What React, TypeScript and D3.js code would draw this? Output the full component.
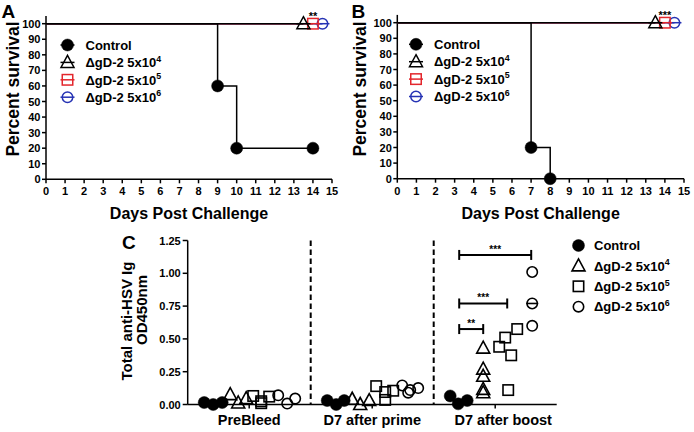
import React from "react";
import * as d3 from "d3";

// ---------- DATA ----------
const survivalTicksX = d3.range(0, 16);
const survivalTicksY = d3.range(0, 101, 10);

const seriesNames = ["Control", "ΔgD-2 5x10", "ΔgD-2 5x10", "ΔgD-2 5x10"];
const seriesExp = ["", "4", "5", "6"];
const seriesShapes = ["dot", "triangle", "square", "circle"];
const seriesColorsAB = ["#000000", "#000000", "#e3262c", "#2633b4"];

// Panel A survival steps (day, percent)
const controlA = [
  { t: 0, s: 100 },
  { t: 9, s: 60 },
  { t: 10, s: 20 },
  { t: 14, s: 20 },
];
const controlAMarks = [
  { t: 9, s: 60 },
  { t: 10, s: 20 },
  { t: 14, s: 20 },
];
// Panel B
const controlB = [
  { t: 0, s: 100 },
  { t: 7, s: 20 },
  { t: 8, s: 0 },
];
const controlBMarks = [
  { t: 7, s: 20 },
  { t: 8, s: 0 },
];
// vaccinated groups survive 100% to day 14
const vaccineSurvival = [
  { t: 0, s: 100 },
  { t: 14, s: 100 },
];
const starsA = "**";
const starsB = "***";

// Panel C
const timepoints = ["PreBleed", "D7 after prime", "D7 after boost"];
// each point: group index, series index, value, jitter (px)
const odPoints: { g: number; k: number; v: number; j: number; bar?: boolean }[] = [
  // PreBleed
  { g: 0, k: 0, v: 0.015, j: -9 }, { g: 0, k: 0, v: 0.0, j: 0 }, { g: 0, k: 0, v: 0.015, j: 9 },
  { g: 0, k: 1, v: 0.075, j: -7 }, { g: 0, k: 1, v: 0.012, j: 1 }, { g: 0, k: 1, v: 0.045, j: 9 },
  { g: 0, k: 2, v: 0.065, j: -8 }, { g: 0, k: 2, v: 0.025, j: 0 }, { g: 0, k: 2, v: 0.01, j: 0 }, { g: 0, k: 2, v: 0.06, j: 8 },
  { g: 0, k: 3, v: 0.07, j: -7 }, { g: 0, k: 3, v: 0.007, j: 2 }, { g: 0, k: 3, v: 0.045, j: 10 },
  // D7 after prime
  { g: 1, k: 0, v: 0.03, j: -9 }, { g: 1, k: 0, v: 0.0, j: 0 }, { g: 1, k: 0, v: 0.03, j: 8 },
  { g: 1, k: 1, v: 0.04, j: -8 }, { g: 1, k: 1, v: 0.0, j: 0 }, { g: 1, k: 1, v: 0.03, j: 9 },
  { g: 1, k: 2, v: 0.14, j: -8 }, { g: 1, k: 2, v: 0.095, j: 1 }, { g: 1, k: 2, v: 0.035, j: 1 }, { g: 1, k: 2, v: 0.105, j: 9 },
  { g: 1, k: 3, v: 0.145, j: -6 }, { g: 1, k: 3, v: 0.11, j: 2 }, { g: 1, k: 3, v: 0.125, j: 10 }, { g: 1, k: 3, v: 0.09, j: 0 },
  // D7 after boost
  { g: 2, k: 0, v: 0.065, j: -9 }, { g: 2, k: 0, v: 0.005, j: -1 }, { g: 2, k: 0, v: 0.03, j: 8 },
  { g: 2, k: 1, v: 0.43, j: 0 }, { g: 2, k: 1, v: 0.27, j: 0 }, { g: 2, k: 1, v: 0.215, j: 0 }, { g: 2, k: 1, v: 0.115, j: 0 }, { g: 2, k: 1, v: 0.09, j: 0 },
  { g: 2, k: 2, v: 0.44, j: -8 }, { g: 2, k: 2, v: 0.51, j: -2 }, { g: 2, k: 2, v: 0.375, j: 4 }, { g: 2, k: 2, v: 0.575, j: 10 }, { g: 2, k: 2, v: 0.11, j: 1 },
  { g: 2, k: 3, v: 1.01, j: 1 }, { g: 2, k: 3, v: 0.77, j: 1, bar: true }, { g: 2, k: 3, v: 0.6, j: 1 },
];
const odTicks = [0, 0.25, 0.5, 0.75, 1.0, 1.25];
const sigBars = [
  { g: 2, from: 0, to: 3, v: 1.14, label: "***" },
  { g: 2, from: 0, to: 2, v: 0.77, label: "***" },
  { g: 2, from: 0, to: 1, v: 0.575, label: "**" },
];

// ---------- STYLE ----------
const FONT = "'Liberation Sans', Arial, Helvetica, sans-serif";
const subOffset = [-36, -12, 12, 36];
const endShift = [0, -0.5, 0, 0.5];

function Marker({ shape, x, y, size, color, sw, line }: any) {
  const r = size / 2;
  const els: any[] = [];
  if (line) {
    els.push(<line key="l" x1={x - r - 1} x2={x + r + 1} y1={y} y2={y} stroke={color} strokeWidth={sw} />);
  }
  if (shape === "dot") {
    els.push(<circle key="m" cx={x} cy={y} r={r} fill={color} stroke={color} strokeWidth={0.5} />);
  } else if (shape === "circle") {
    els.push(<circle key="m" cx={x} cy={y} r={r - sw / 2} fill="none" stroke={color} strokeWidth={sw} />);
  } else if (shape === "square") {
    const h = r - sw / 2;
    els.push(<rect key="m" x={x - h} y={y - h} width={2 * h} height={2 * h} fill="none" stroke={color} strokeWidth={sw} />);
  } else {
    const w = r + 0.5;
    const p = `M${x},${y - r - 1}L${x + w},${y + r - 1}L${x - w},${y + r - 1}Z`;
    els.push(<path key="m" d={p} fill="none" stroke={color} strokeWidth={sw} strokeLinejoin="miter" />);
  }
  return <g>{els}</g>;
}

function LegendLabel({ x, y, i, size }: any) {
  return (
    <text x={x} y={y} fontFamily={FONT} fontWeight="bold" fontSize={size} fill="#000">
      {seriesNames[i]}
      {seriesExp[i] && (
        <tspan fontSize={size * 0.68} dy={-size * 0.42}>
          {seriesExp[i]}
        </tspan>
      )}
    </text>
  );
}

function SurvivalPanel({ letter, x0, x1, y0, y100, control, controlMarks, stars, legendX, legendY, labelX, titleX }: any) {
  const x = d3.scaleLinear().domain([0, 15]).range([x0, x1]);
  const y = d3.scaleLinear().domain([0, 100]).range([y0, y100]);
  const line = d3
    .line<{ t: number; s: number }>()
    .x((d) => x(d.t))
    .y((d) => y(d.s))
    .curve(d3.curveStepAfter);
  const vacc = [3, 2, 1];
  return (
    <g>
      <text x={titleX} y={17.5} fontFamily={FONT} fontWeight="bold" fontSize={19}>
        {letter}
      </text>
      {/* axes */}
      <line x1={x0} x2={x0} y1={y(105)} y2={y0} stroke="#000" strokeWidth={1.5} />
      <line x1={x0} x2={x1} y1={y0} y2={y0} stroke="#000" strokeWidth={1.5} />
      {survivalTicksY.map((t) => (
        <g key={"y" + t}>
          <line x1={x0 - 4} x2={x0} y1={y(t)} y2={y(t)} stroke="#000" strokeWidth={1.5} />
          <text x={x0 - 5.5} y={y(t) + 4} textAnchor="end" fontFamily={FONT} fontWeight="bold" fontSize={11}>
            {t}
          </text>
        </g>
      ))}
      {survivalTicksX.map((t) => (
        <g key={"x" + t}>
          <line x1={x(t)} x2={x(t)} y1={y0} y2={y0 + 4} stroke="#000" strokeWidth={1.5} />
          <text x={x(t)} y={y0 + 16} textAnchor="middle" fontFamily={FONT} fontWeight="bold" fontSize={11}>
            {t}
          </text>
        </g>
      ))}
      <text x={(x0 + x1) / 2} y={y0 + 40} textAnchor="middle" fontFamily={FONT} fontWeight="bold" fontSize={16}>
        Days Post Challenge
      </text>
      <text
        transform={`translate(${labelX},89) rotate(-90)`}
        textAnchor="middle"
        fontFamily={FONT}
        fontWeight="bold"
        fontSize={17.5}
      >
        Percent survival
      </text>
      {/* vaccinated group curves */}
      {vacc.map((k) => {
        const pts = vaccineSurvival.map((d, i) =>
          i === vaccineSurvival.length - 1 ? { t: d.t + endShift[k], s: d.s } : d
        );
        return <path key={"v" + k} d={line(pts) || ""} fill="none" stroke={seriesColorsAB[k]} strokeWidth={1.5} />;
      })}
      <path d={line(control) || ""} fill="none" stroke="#000" strokeWidth={1.5} />
      {controlMarks.map((d: any, i: number) => (
        <Marker key={"c" + i} shape="dot" x={x(d.t)} y={y(d.s)} size={12} color="#000" sw={1.5} />
      ))}
      {vacc.map((k) => {
        const last = vaccineSurvival[vaccineSurvival.length - 1];
        return (
          <Marker
            key={"vm" + k}
            shape={seriesShapes[k]}
            x={x(last.t + endShift[k])}
            y={y(last.s)}
            size={12}
            color={seriesColorsAB[k]}
            sw={1.5}
            line
          />
        );
      })}
      <text
        x={x(vaccineSurvival[vaccineSurvival.length - 1].t)}
        y={y(100) - 4}
        textAnchor="middle"
        fontFamily={FONT}
        fontWeight="bold"
        fontSize={11}
      >
        {stars}
      </text>
      {/* legend */}
      {seriesNames.map((_, i) => {
        const ly = legendY + i * 17.4;
        return (
          <g key={"lg" + i}>
            <Marker shape={seriesShapes[i]} x={legendX} y={ly} size={12} color={seriesColorsAB[i]} sw={1.5} line />
            <LegendLabel x={legendX + 18} y={ly + 4.7} i={i} size={13} />
          </g>
        );
      })}
    </g>
  );
}

function PanelC() {
  const x0 = 187.7;
  const x1 = 556.7;
  const yb = 404.5;
  const x = d3.scaleBand<string>().domain(timepoints).range([x0, x1]).padding(0);
  const y = d3.scaleLinear().domain([0, 1.25]).range([yb, 240.5]);
  const cx = (g: number) => (x(timepoints[g]) as number) + x.bandwidth() / 2;
  const order = [...odPoints].sort((a, b) => a.k - b.k);
  return (
    <g>
      <text x={122} y={248.5} fontFamily={FONT} fontWeight="bold" fontSize={19}>
        C
      </text>
      {/* dashed separators */}
      {timepoints.slice(1).map((t) => (
        <line
          key={"d" + t}
          x1={x(t) as number}
          x2={x(t) as number}
          y1={y(1.25)}
          y2={yb}
          stroke="#000"
          strokeWidth={2}
          strokeDasharray="5.5,3.5"
        />
      ))}
      <line x1={x0} x2={x0} y1={y(1.25)} y2={yb} stroke="#000" strokeWidth={1.5} />
      <line x1={x0} x2={x1} y1={yb} y2={yb} stroke="#000" strokeWidth={1.5} />
      {odTicks.map((t) => (
        <g key={"t" + t}>
          <line x1={x0 - 5} x2={x0} y1={y(t)} y2={y(t)} stroke="#000" strokeWidth={1.5} />
          <text x={x0 - 7} y={y(t) + 4} textAnchor="end" fontFamily={FONT} fontWeight="bold" fontSize={11}>
            {t.toFixed(2)}
          </text>
        </g>
      ))}
      {timepoints.map((t, g) => (
        <g key={"g" + t}>
          <line x1={cx(g)} x2={cx(g)} y1={yb} y2={yb + 4} stroke="#000" strokeWidth={1.5} />
          <text x={cx(g) + (g === 2 ? 8 : 0)} y={yb + 20} textAnchor="middle" fontFamily={FONT} fontWeight="bold" fontSize={14.5}>
            {t}
          </text>
        </g>
      ))}
      <text transform="translate(132,321) rotate(-90)" textAnchor="middle" fontFamily={FONT} fontWeight="bold" fontSize={15}>
        Total anti-HSV Ig
      </text>
      <text transform="translate(146.5,310) rotate(-90)" textAnchor="middle" fontFamily={FONT} fontWeight="bold" fontSize={15}>
        OD450nm
      </text>
      {/* points */}
      {order.map((p, i) => {
        const px = cx(p.g) + subOffset[p.k] + p.j;
        const py = y(p.v);
        return (
          <g key={"p" + i}>
            <Marker shape={seriesShapes[p.k]} x={px} y={py} size={12} color="#000" sw={1.6} />
            {p.bar && <line x1={px - 6} x2={px + 6} y1={py} y2={py} stroke="#000" strokeWidth={1.6} />}
          </g>
        );
      })}
      {/* significance bars */}
      {sigBars.map((b, i) => {
        const xa = cx(b.g) + subOffset[b.from];
        const xe = cx(b.g) + subOffset[b.to];
        const yy = y(b.v);
        return (
          <g key={"s" + i}>
            <line x1={xa} x2={xe} y1={yy} y2={yy} stroke="#000" strokeWidth={2} />
            <line x1={xa} x2={xa} y1={yy - 5} y2={yy + 5} stroke="#000" strokeWidth={2} />
            <line x1={xe} x2={xe} y1={yy - 5} y2={yy + 5} stroke="#000" strokeWidth={2} />
            <text x={(xa + xe) / 2} y={yy - 2} textAnchor="middle" fontFamily={FONT} fontWeight="bold" fontSize={10}>
              {b.label}
            </text>
          </g>
        );
      })}
      {/* legend */}
      {seriesNames.map((_, i) => {
        const ly = 245.5 + i * 20.4;
        return (
          <g key={"cl" + i}>
            <Marker shape={seriesShapes[i]} x={578.5} y={ly} size={12} color="#000" sw={1.6} />
            <LegendLabel x={594} y={ly + 4.7} i={i} size={13} />
          </g>
        );
      })}
    </g>
  );
}

export default function App() {
  return (
    <svg
      width={694}
      height={432}
      viewBox="0 0 694 432"
      style={{ position: "absolute", left: 0, top: 0, background: "#fff" }}
    >
      <rect width={694} height={432} fill="#fff" />
      <SurvivalPanel
        letter="A"
        x0={46}
        x1={332}
        y0={179.3}
        y100={23.7}
        control={controlA}
        controlMarks={controlAMarks}
        stars={starsA}
        legendX={67.5}
        legendY={45}
        labelX={18.5}
        titleX={1.5}
      />
      <SurvivalPanel
        letter="B"
        x0={397.3}
        x1={684}
        y0={178.7}
        y100={22.7}
        control={controlB}
        controlMarks={controlBMarks}
        stars={starsB}
        legendX={416}
        legendY={44.3}
        labelX={365.5}
        titleX={351.5}
      />
      <PanelC />
    </svg>
  );
}
